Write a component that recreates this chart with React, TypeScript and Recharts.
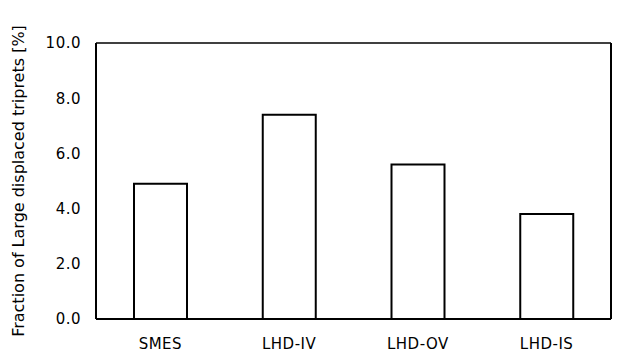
import { BarChart, Bar, XAxis, YAxis, CartesianGrid } from 'recharts';

const categories = ['SMES', 'LHD-IV', 'LHD-OV', 'LHD-IS'];
const fractions = [4.9, 7.4, 5.6, 3.8];
const yTicks = [0, 2, 4, 6, 8, 10];

const data = categories.map((name, i) => ({ name, value: fractions[i] }));

const font = "'DejaVu Sans', sans-serif";

export default function App() {
  return (
    <div style={{ position: 'absolute', left: 0, top: 0, background: '#fff' }}>
      <BarChart
        width={622}
        height={358}
        data={data}
        margin={{ top: 43, right: 10, bottom: 9, left: 36 }}
        barSize={53}
      >
        <CartesianGrid vertical={false} stroke="#000" strokeWidth={1.5} strokeOpacity={1} />
        <XAxis
          dataKey="name"
          height={30}
          tickLine={false}
          axisLine={{ stroke: '#000', strokeWidth: 2 }}
          tick={{ fill: '#000', fontSize: 15, fontFamily: font, letterSpacing: 0.5 }}
          tickMargin={13}
        />
        <YAxis
          yAxisId="left"
          width={60}
          domain={[0, 10]}
          ticks={yTicks}
          tickFormatter={(v: number) => v.toFixed(1)}
          tickLine={false}
          axisLine={{ stroke: '#000', strokeWidth: 2 }}
          tick={{ fill: '#000', fontSize: 15, fontFamily: font, letterSpacing: 0.5 }}
          tickMargin={9}
          label={{
            value: 'Fraction of Large displaced triprets [%]',
            angle: -90,
            position: 'insideLeft',
            offset: -18,
            style: { textAnchor: 'middle', fill: '#000', fontSize: 16, fontFamily: font },
          }}
        />
        <YAxis
          yAxisId="right"
          orientation="right"
          width={1}
          domain={[0, 10]}
          ticks={yTicks}
          tick={false}
          tickLine={false}
          axisLine={{ stroke: '#000', strokeWidth: 2 }}
        />
        <Bar
          yAxisId="left"
          dataKey="value"
          fill="#fff"
          stroke="#000"
          strokeWidth={2}
          isAnimationActive={false}
        />
      </BarChart>
    </div>
  );
}
